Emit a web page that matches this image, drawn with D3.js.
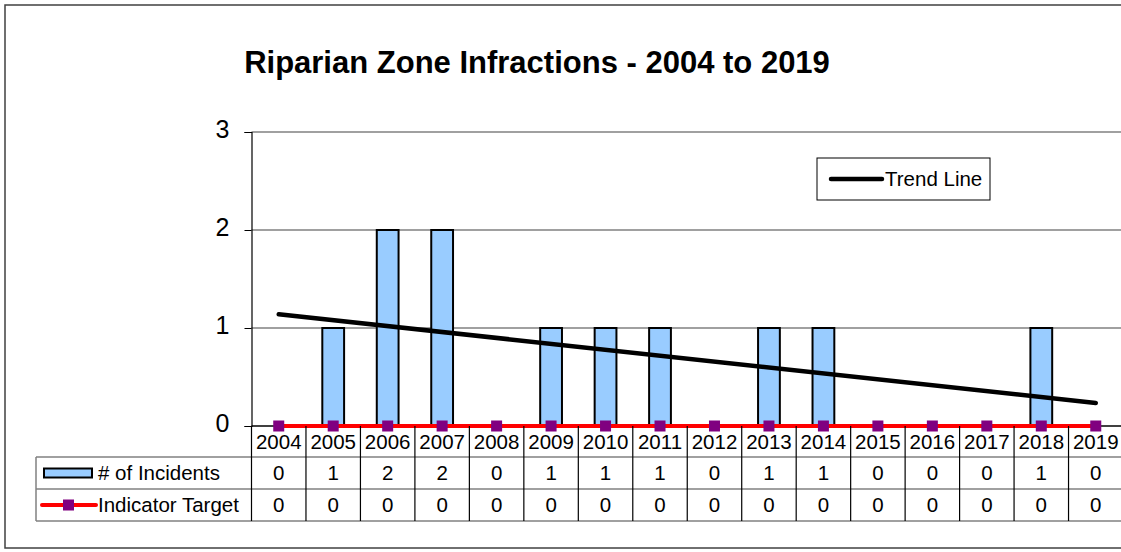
<!DOCTYPE html>
<html>
<head>
<meta charset="utf-8">
<script src="https://cdn.jsdelivr.net/npm/d3@7"></script>
<style>
  body { margin: 0; background: #fff; }
  svg { display: block; font-family: "Liberation Sans", Arial, sans-serif; }
</style>
</head>
<body>
<div id="chart"></div>
<script>
// Chart data
const years = ['2004', '2005', '2006', '2007', '2008', '2009', '2010', '2011',
  '2012', '2013', '2014', '2015', '2016', '2017', '2018', '2019'];
const incidents = [0, 1, 2, 2, 0, 1, 1, 1, 0, 1, 1, 0, 0, 0, 1, 0];
const indicatorTarget = [0, 0, 0, 0, 0, 0, 0, 0, 0, 0, 0, 0, 0, 0, 0, 0];
// trend line end values read at 2004 and 2019
const trendYears = ['2004', '2019'];
const trendValues = [1.14, 0.235];
const yTicks = [0, 1, 2, 3];

const width = 1121, height = 552;
const plot = { left: 251.5, right: 1123, top: 132, bottom: 426 };
const rowH = 32;
const tableFont = '20.5px';

const svg = d3.select('#chart').append('svg')
  .attr('width', width)
  .attr('height', height);

// Outer frame
svg.append('rect')
  .attr('x', 5).attr('y', 5)
  .attr('width', width + 10).attr('height', 543)
  .attr('fill', '#fff')
  .attr('stroke', '#404040')
  .attr('stroke-width', 1.5);

// Title
svg.append('text')
  .attr('x', 537).attr('y', 73)
  .attr('text-anchor', 'middle')
  .style('font-size', '31px')
  .style('font-weight', 'bold')
  .text('Riparian Zone Infractions - 2004 to 2019');

// Scales
const x = d3.scaleBand().domain(years).range([plot.left, plot.right]).padding(0);
const y = d3.scaleLinear().domain([0, 3]).range([plot.bottom, plot.top]);
const cx = d => x(d) + x.bandwidth() / 2;

// Gridlines
svg.append('g')
  .selectAll('line')
  .data(yTicks.filter(t => t > 0))
  .join('line')
  .attr('x1', plot.left).attr('x2', plot.right + 5)
  .attr('y1', d => y(d)).attr('y2', d => y(d))
  .attr('stroke', '#808080')
  .attr('stroke-width', 1.5);

// Y axis
const yAxis = d3.axisLeft(y).tickValues(yTicks).tickFormat(d3.format('d')).tickSize(7).tickPadding(15);
const yAxisG = svg.append('g')
  .attr('transform', `translate(${plot.left},0)`)
  .call(yAxis);
yAxisG.select('.domain').attr('stroke', '#000').attr('stroke-width', 1.2);
yAxisG.selectAll('line').attr('stroke', '#000');
yAxisG.selectAll('text')
  .attr('fill', '#000')
  .attr('dy', '0.2em')
  .style('font-size', '25px')
  .style('font-family', '"Liberation Sans", Arial, sans-serif');

// X axis baseline
svg.append('line')
  .attr('x1', plot.left).attr('x2', plot.right + 5)
  .attr('y1', y(0)).attr('y2', y(0))
  .attr('stroke', '#000')
  .attr('stroke-width', 1.5);

// Bars
const barW = x.bandwidth() * 0.4;
svg.append('g')
  .selectAll('rect')
  .data(years.map((yr, i) => ({ yr, v: incidents[i] })).filter(d => d.v > 0))
  .join('rect')
  .attr('x', d => cx(d.yr) - barW / 2)
  .attr('y', d => y(d.v))
  .attr('width', barW)
  .attr('height', d => y(0) - y(d.v))
  .attr('fill', '#99ccff')
  .attr('stroke', '#000')
  .attr('stroke-width', 2);

// Indicator target line + markers
const targetData = years.map((yr, i) => ({ yr, v: indicatorTarget[i] }));
svg.append('path')
  .datum(targetData)
  .attr('fill', 'none')
  .attr('stroke', '#ff0000')
  .attr('stroke-width', 4)
  .attr('d', d3.line().x(d => cx(d.yr)).y(d => y(d.v)));

svg.append('g')
  .selectAll('rect')
  .data(targetData)
  .join('rect')
  .attr('x', d => cx(d.yr) - 5.5)
  .attr('y', d => y(d.v) - 5.5)
  .attr('width', 11).attr('height', 11)
  .attr('fill', '#800080');

// Trend line
svg.append('path')
  .datum(trendYears.map((yr, i) => ({ yr, v: trendValues[i] })))
  .attr('fill', 'none')
  .attr('stroke', '#000')
  .attr('stroke-width', 4.5)
  .attr('stroke-linecap', 'round')
  .attr('d', d3.line().x(d => cx(d.yr)).y(d => y(d.v)));

// Legend box
const lg = svg.append('g').attr('transform', 'translate(817,158)');
lg.append('rect')
  .attr('width', 173).attr('height', 42)
  .attr('fill', '#fff')
  .attr('stroke', '#000')
  .attr('stroke-width', 1);
lg.append('line')
  .attr('x1', 14).attr('x2', 65)
  .attr('y1', 21).attr('y2', 21)
  .attr('stroke', '#000')
  .attr('stroke-width', 4.5)
  .attr('stroke-linecap', 'round');
lg.append('text')
  .attr('x', 68).attr('y', 28)
  .style('font-size', tableFont)
  .text('Trend Line');

// Data table
const table = svg.append('g');
const rows = [
  { label: '# of Incidents', values: incidents },
  { label: 'Indicator Target', values: indicatorTarget }
];
const tableTop = plot.bottom;
const legendLeft = 36;

// year labels row
table.selectAll('text.year')
  .data(years)
  .join('text')
  .attr('class', 'year')
  .attr('x', d => cx(d))
  .attr('y', tableTop + 23)
  .attr('text-anchor', 'middle')
  .style('font-size', tableFont)
  .text(d => d);

// horizontal lines
[1, 2, 3].forEach(r => {
  table.append('line')
    .attr('x1', legendLeft).attr('x2', plot.right + 5)
    .attr('y1', tableTop + 31 + (r - 1) * rowH)
    .attr('y2', tableTop + 31 + (r - 1) * rowH)
    .attr('stroke', '#808080')
    .attr('stroke-width', 1.5);
});

// vertical lines
const colEdges = [plot.left].concat(years.map(yr => x(yr) + x.bandwidth()));
table.selectAll('line.col')
  .data(colEdges)
  .join('line')
  .attr('class', 'col')
  .attr('x1', d => d).attr('x2', d => d)
  .attr('y1', tableTop).attr('y2', tableTop + 31 + 2 * rowH)
  .attr('stroke', '#000')
  .attr('stroke-width', 1.2);
table.append('line')
  .attr('x1', legendLeft).attr('x2', legendLeft)
  .attr('y1', tableTop + 31).attr('y2', tableTop + 31 + 2 * rowH)
  .attr('stroke', '#808080')
  .attr('stroke-width', 1.5);

rows.forEach((row, ri) => {
  const rowMid = tableTop + 31 + ri * rowH + rowH / 2;
  table.append('g')
    .selectAll('text')
    .data(row.values)
    .join('text')
    .attr('x', (d, i) => cx(years[i]))
    .attr('y', rowMid + 7)
    .attr('text-anchor', 'middle')
    .style('font-size', tableFont)
    .text(d => d);
  table.append('text')
    .attr('x', 98)
    .attr('y', rowMid + 7)
    .style('font-size', tableFont)
    .text(row.label);
});

// table legend keys
const key1Mid = tableTop + 31 + rowH / 2;
table.append('rect')
  .attr('x', 44).attr('y', key1Mid - 4.5)
  .attr('width', 48).attr('height', 9)
  .attr('fill', '#99ccff')
  .attr('stroke', '#000')
  .attr('stroke-width', 2);
const key2Mid = tableTop + 31 + rowH * 1.5;
table.append('line')
  .attr('x1', 42).attr('x2', 96)
  .attr('y1', key2Mid).attr('y2', key2Mid)
  .attr('stroke', '#ff0000')
  .attr('stroke-width', 4)
  .attr('stroke-linecap', 'round');
table.append('rect')
  .attr('x', 63).attr('y', key2Mid - 5.5)
  .attr('width', 11).attr('height', 11)
  .attr('fill', '#800080');
</script>
</body>
</html>
